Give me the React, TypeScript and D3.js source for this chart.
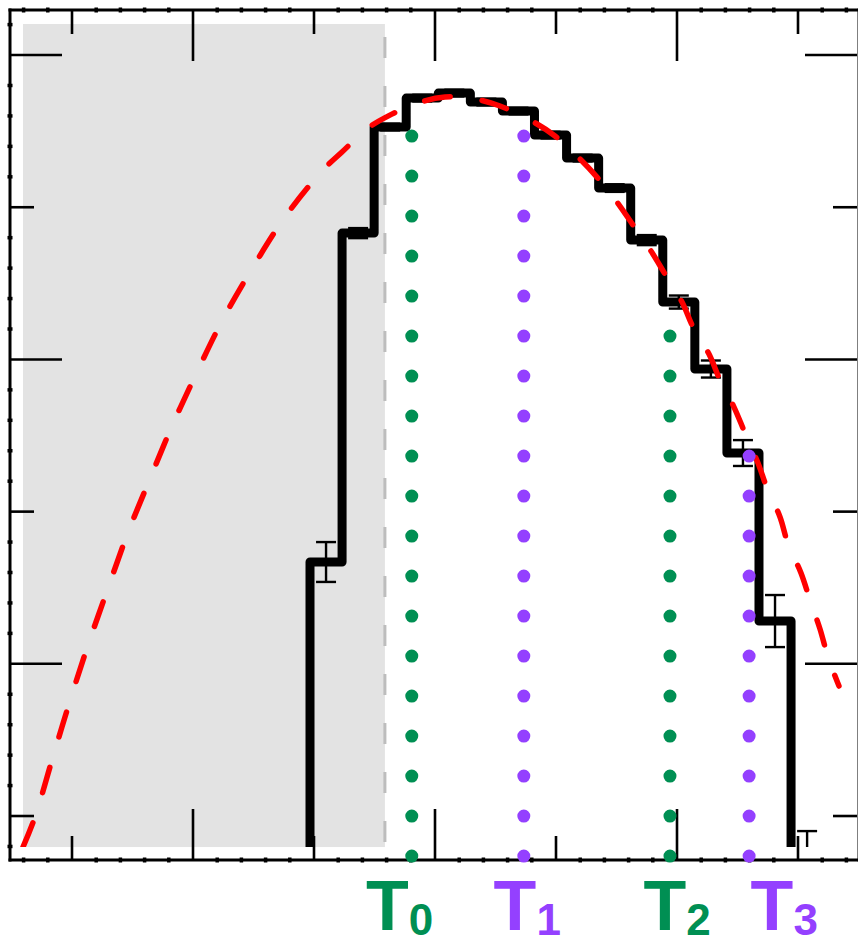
import React, { useEffect, useRef } from 'react';
import * as d3 from 'd3';

const width = 858;
const height = 940;

// histogram bins (x edges) and their contents
const binEdges = [9.835, 11.16, 12.485, 13.81, 15.136, 16.461, 17.786, 19.111, 20.437, 21.762, 23.087, 24.412, 25.737, 27.063, 28.388, 29.713];
const binValues = [1.669, 3.83, 4.527, 4.717, 4.75, 4.691, 4.632, 4.474, 4.323, 4.126, 3.784, 3.377, 2.937, 2.385, 1.281];
const binErrors = [0.131, 0.033, 0.022, 0.022, 0.022, 0.022, 0.022, 0.022, 0.022, 0.025, 0.033, 0.043, 0.056, 0.085, 0.171];
// empty bin after the last one: only the upper half of its error bar shows
const emptyBinCenter = 30.376;
const emptyBinError = 0.105;
const histFloor = -0.204;

// dashed fit curve
const fitX = [-2.025, -1.529, -0.826, -0.124, 0.62, 1.446, 2.273, 3.182, 4.132, 5.165, 6.24, 7.479, 8.802, 10.331, 11.157, 12.231, 13.058, 14.298, 15.413, 16.653, 17.686, 19.008, 19.959, 20.909, 21.694, 22.521, 23.182, 23.926, 24.504, 25.207, 25.661, 26.322, 26.777, 27.355, 27.81, 28.347, 28.719, 29.256, 29.587, 30.124, 30.496, 30.909, 31.24, 31.694];
const fitY = [-0.204, -0.007, 0.368, 0.736, 1.104, 1.478, 1.846, 2.201, 2.562, 2.917, 3.265, 3.607, 3.936, 4.238, 4.363, 4.52, 4.599, 4.685, 4.724, 4.711, 4.665, 4.566, 4.468, 4.33, 4.198, 4.034, 3.883, 3.712, 3.561, 3.377, 3.213, 3.035, 2.865, 2.687, 2.516, 2.319, 2.155, 1.965, 1.787, 1.597, 1.419, 1.229, 1.045, 0.854];

// grey excluded region and its edge
const shadeX = [-2.025, 12.93];
const shadeY = [-0.204, 5.204];
const cutTop = 5.118;

// the four T markers
const markerSubs = ['0', '1', '2', '3'];
const markerX = [14.04, 18.67, 24.71, 27.98];
const markerTop = [4.475, 4.475, 3.155, 2.372];
const markerBottom = -0.263;

// axis ticks
const xMajor = [0, 5, 10, 15, 20, 25, 30];
const xLong = [5, 15, 25];
const yMajor = [0, 1, 2, 3, 4, 5];
const yLong = [1, 3, 5];

const green = '#008f53';
const purple = '#9440ff';
const markerColors = [green, purple, green, purple];
const labelShift = [-45.7, -30.2, -26.5, 1.5];

const App = () => {
  const svgRef = useRef(null);

  useEffect(() => {
    const svg = d3.select(svgRef.current);
    svg.selectAll('*').remove();

    const left = 10, right = 859, top = 10, bottom = 860;
    const x = d3.scaleLinear().domain([-2.562, 32.438]).range([10, 857]);
    const y = d3.scaleLinear().domain([-0.289, 5.296]).range([bottom, top]);

    svg.append('defs').append('clipPath').attr('id', 'plotClip')
      .append('rect')
      .attr('x', left).attr('y', top)
      .attr('width', right - left).attr('height', y(histFloor) - top);

    // shaded region
    svg.append('rect')
      .attr('x', x(shadeX[0])).attr('y', y(shadeY[1]))
      .attr('width', x(shadeX[1]) - x(shadeX[0]))
      .attr('height', y(shadeY[0]) - y(shadeY[1]))
      .attr('fill', '#e3e3e3');

    svg.append('line')
      .attr('x1', x(shadeX[1])).attr('x2', x(shadeX[1]))
      .attr('y1', y(cutTop)).attr('y2', y(shadeY[0]))
      .attr('stroke', '#bdbdbd').attr('stroke-width', 3)
      .attr('stroke-dasharray', '21 28');

    const plot = svg.append('g').attr('clip-path', 'url(#plotClip)');

    // step histogram
    let d = `M${x(binEdges[0])},${y(histFloor)}`;
    binValues.forEach((v, i) => {
      d += `V${y(v)}H${x(binEdges[i + 1])}`;
    });
    d += `V${y(histFloor)}`;
    plot.append('path')
      .attr('d', d)
      .attr('fill', 'none')
      .attr('stroke', '#000')
      .attr('stroke-width', 9)
      .attr('stroke-linejoin', 'round');

    // error bars
    const bars = binValues.map((v, i) => ({
      cx: (binEdges[i] + binEdges[i + 1]) / 2,
      v,
      e: binErrors[i]
    }));
    bars.push({ cx: emptyBinCenter, v: histFloor, e: emptyBinError });

    const capHalf = 10;
    const eb = plot.selectAll('.eb').data(bars).join('g').attr('class', 'eb')
      .attr('stroke', '#000').attr('stroke-width', 2.4);
    eb.append('line')
      .attr('x1', b => x(b.cx)).attr('x2', b => x(b.cx))
      .attr('y1', b => y(b.v + b.e)).attr('y2', b => y(b.v - b.e));
    eb.append('line')
      .attr('x1', b => x(b.cx) - capHalf).attr('x2', b => x(b.cx) + capHalf)
      .attr('y1', b => y(b.v + b.e)).attr('y2', b => y(b.v + b.e));
    eb.append('line')
      .attr('x1', b => x(b.cx) - capHalf).attr('x2', b => x(b.cx) + capHalf)
      .attr('y1', b => y(b.v - b.e)).attr('y2', b => y(b.v - b.e));

    // frame
    const frame = svg.append('g').attr('stroke', '#000').attr('stroke-width', 3);
    frame.append('line').attr('x1', left).attr('x2', left).attr('y1', top - 1.5).attr('y2', bottom + 1.5);
    frame.append('line').attr('x1', right).attr('x2', right).attr('y1', top - 1.5).attr('y2', bottom + 1.5);
    frame.append('line').attr('x1', left - 1.5).attr('x2', right).attr('y1', top).attr('y2', top);
    frame.append('line').attr('x1', left - 1.5).attr('x2', right).attr('y1', bottom).attr('y2', bottom);

    const ticks = svg.append('g').attr('stroke', '#000').attr('stroke-width', 2.6);
    const xLen = (t: number) => (xLong.includes(t) ? 51 : 24);
    const yLen = (t: number) => (yLong.includes(t) ? 52 : 24);

    // major ticks, pointing inward on all four sides
    ticks.selectAll('.xb').data(xMajor).join('line').attr('class', 'xb')
      .attr('x1', t => x(t)).attr('x2', t => x(t))
      .attr('y1', bottom).attr('y2', t => bottom - xLen(t));
    ticks.selectAll('.xt').data(xMajor).join('line').attr('class', 'xt')
      .attr('x1', t => x(t)).attr('x2', t => x(t))
      .attr('y1', top).attr('y2', t => top + xLen(t));
    ticks.selectAll('.yl').data(yMajor).join('line').attr('class', 'yl')
      .attr('y1', t => y(t)).attr('y2', t => y(t))
      .attr('x1', left).attr('x2', t => left + yLen(t));
    ticks.selectAll('.yr').data(yMajor).join('line').attr('class', 'yr')
      .attr('y1', t => y(t)).attr('y2', t => y(t))
      .attr('x1', 857).attr('x2', t => 857 - yLen(t));

    // minor ticks: small nubs on the axis lines
    const xMinor = x.ticks(35).filter(t => !xMajor.includes(t));
    const yMinor = d3.range(-0.2, 5.3, 0.2).map(v => +v.toFixed(1)).filter(t => !yMajor.includes(t));
    const minor = svg.append('g').attr('stroke', '#000').attr('stroke-width', 3.5);
    [bottom, top].forEach((yy, k) => {
      minor.selectAll(`.mx${k}`).data(xMinor).join('line').attr('class', `mx${k}`)
        .attr('x1', t => x(t)).attr('x2', t => x(t))
        .attr('y1', yy - 2.5).attr('y2', yy + 2.5);
    });
    minor.selectAll('.my').data(yMinor).join('line').attr('class', 'my')
      .attr('y1', t => y(t)).attr('y2', t => y(t))
      .attr('x1', left - 2.5).attr('x2', left + 2.5);

    // dotted marker lines
    svg.selectAll('.marker').data(markerX).join('line').attr('class', 'marker')
      .attr('x1', v => x(v)).attr('x2', v => x(v))
      .attr('y1', y(markerBottom)).attr('y2', (v, i) => y(markerTop[i]))
      .attr('stroke', (v, i) => markerColors[i])
      .attr('stroke-width', 13)
      .attr('stroke-linecap', 'round')
      .attr('stroke-dasharray', '0 40');

    // fit curve
    const pts: [number, number][] = fitX.map((v, i) => [v, fitY[i]]);
    const lineGen = d3.line<[number, number]>()
      .x(p => x(p[0])).y(p => y(p[1]))
      .curve(d3.curveCatmullRom.alpha(0.5));
    plot.append('path')
      .attr('d', lineGen(pts))
      .attr('fill', 'none')
      .attr('stroke', '#ff0000')
      .attr('stroke-width', 5.5)
      .attr('stroke-linecap', 'round')
      .attr('stroke-dasharray', '26 32');

    // labels
    const labels = svg.selectAll('.lab').data(markerSubs).join('text').attr('class', 'lab')
      .attr('x', (s, i) => x(markerX[i]) + labelShift[i])
      .attr('y', 930)
      .attr('fill', (s, i) => markerColors[i])
      .attr('font-family', '"Liberation Sans", Arial, sans-serif')
      .attr('font-weight', 'bold')
      .attr('font-size', 70);
    labels.append('tspan').text('T');
    labels.append('tspan').attr('font-size', 44).attr('dy', 5).text(s => s);
  }, []);

  return (
    <svg
      ref={svgRef}
      width={width}
      height={height}
      style={{ position: 'absolute', left: 0, top: 0, background: '#fff' }}
    />
  );
};

export default App;
